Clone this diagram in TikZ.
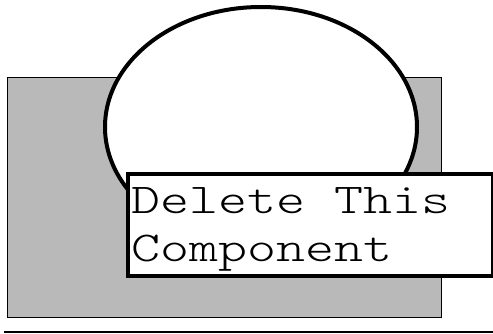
\documentclass[tikz,border=0pt]{standalone}
\usepackage{fontspec}
\newfontfamily\courlike[FakeStretch=1.3]{Latin Modern Mono Light}
\usetikzlibrary{shapes.geometric}
\definecolor{panelgrey}{RGB}{185,185,185}
\tikzset{
  panel/.style={draw=black, line width=1.3pt, fill=panelgrey},
  bubble/.style={ellipse, draw=black, line width=4pt, fill=white, inner sep=0pt},
  labelbox/.style={rectangle, draw=black, line width=4pt, fill=white, inner sep=0pt},
  labeltext/.style={font=\courlike\fontsize{42.5}{48}\selectfont, align=left, inner sep=0pt, text=black}
}
\begin{document}
\begin{tikzpicture}[x=1pt,y=1pt]
\useasboundingbox (0,0) rectangle (493,333);
\node[panel, rectangle, minimum width=433.5pt, minimum height=240pt, anchor=south west, inner sep=0pt] (panel) at (7,15) {};
\node[bubble, minimum width=312pt, minimum height=240pt] (bubble) at (261,206) {};
\node[labelbox, minimum width=365pt, minimum height=102pt, anchor=north west] (box) at (126,161) {};
\node[labeltext, anchor=base west] (label) at (131,120) {Delete This};
\node[labeltext, anchor=base west] (label2) at (131,72) {Component};
\coordinate (lineL) at (4,1.5);
\coordinate (lineR) at (493,1.5);
\draw[line width=2pt] (lineL) -- (lineR);
\end{tikzpicture}
\end{document}
